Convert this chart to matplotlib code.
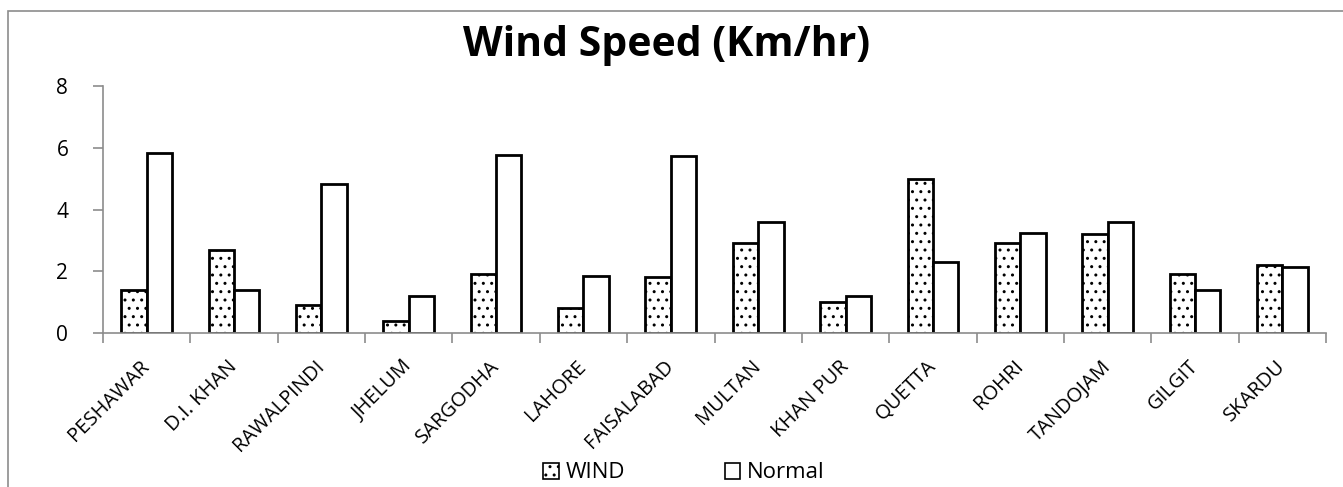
import matplotlib
matplotlib.use("Agg")
import matplotlib.pyplot as plt
import numpy as np
from matplotlib.patches import Rectangle

plt.rcParams['font.family'] = ['Open Sans', 'DejaVu Sans']
plt.rcParams['hatch.linewidth'] = 1.0

cities = ["PESHAWAR", "D.I. KHAN", "RAWALPINDI", "JHELUM", "SARGODHA", "LAHORE",
          "FAISALABAD", "MULTAN", "KHAN PUR", "QUETTA", "ROHRI", "TANDOJAM",
          "GILGIT", "SKARDU"]
wind = [1.4, 2.7, 0.9, 0.4, 1.9, 0.8, 1.8, 2.9, 1.0, 5.0, 2.9, 3.2, 1.9, 2.2]
normal = [5.83, 1.4, 4.82, 1.2, 5.75, 1.85, 5.72, 3.6, 1.2, 2.3, 3.25, 3.6, 1.4, 2.15]
yticks = [0, 2, 4, 6, 8]

W, H = 1343, 487
fig = plt.figure(figsize=(W / 100, H / 100), dpi=100)
fig.patches.append(Rectangle((8 / W, -0.1), 1.0, (H - 11) / H + 0.1,
                             transform=fig.transFigure, fill=False,
                             edgecolor='#8c8c8c', linewidth=1.2))

left, right = 103 / W, 1326 / W
bottom, top = 1 - 333 / H, 1 - 86 / H
ax = fig.add_axes([left, bottom, right - left, top - bottom])

x = np.arange(len(cities))
bw = 0.29
ax.bar(x - bw / 2, wind, bw, facecolor='white', edgecolor='black',
       linewidth=2, hatch='..', label='WIND', zorder=3)
ax.bar(x + bw / 2, normal, bw, facecolor='white', edgecolor='black',
       linewidth=2, label='Normal', zorder=3)

ax.set_xlim(-0.5, len(cities) - 0.5)
ax.set_ylim(0, 8)
ax.set_yticks(yticks)
ax.set_yticklabels([str(v) for v in yticks], fontsize=15)
ax.tick_params(axis='y', length=7, width=1.2, color='#8c8c8c', pad=18)

ax.set_xticks(x)
ax.set_xticklabels(cities, rotation=45, ha='right', va='center',
                   rotation_mode='anchor', fontsize=14.5)
ax.tick_params(axis='x', length=0, pad=22)
ax.set_xticks(np.arange(-0.5, len(cities)), minor=True)
ax.tick_params(axis='x', which='minor', length=7, width=1.2, color='#8c8c8c')

for s in ['top', 'right']:
    ax.spines[s].set_visible(False)
for s in ['left', 'bottom']:
    ax.spines[s].set_color('#8c8c8c')
    ax.spines[s].set_linewidth(1.2)
ax.spines['bottom'].set_zorder(4)

fig.text(667 / W, 1 - 46 / H, "Wind Speed (Km/hr)", ha='center', va='center',
         fontsize=29.5, fontweight='bold')

leg = fig.legend(loc='center', bbox_to_anchor=(684 / W, 1 - 473 / H), ncol=2,
                 frameon=False, fontsize=16, handlelength=0.7, handleheight=0.7,
                 columnspacing=4.5, handletextpad=0.3)
for h in leg.legend_handles:
    h.set_linewidth(1.2)

fig.savefig("out.png", dpi=100)
